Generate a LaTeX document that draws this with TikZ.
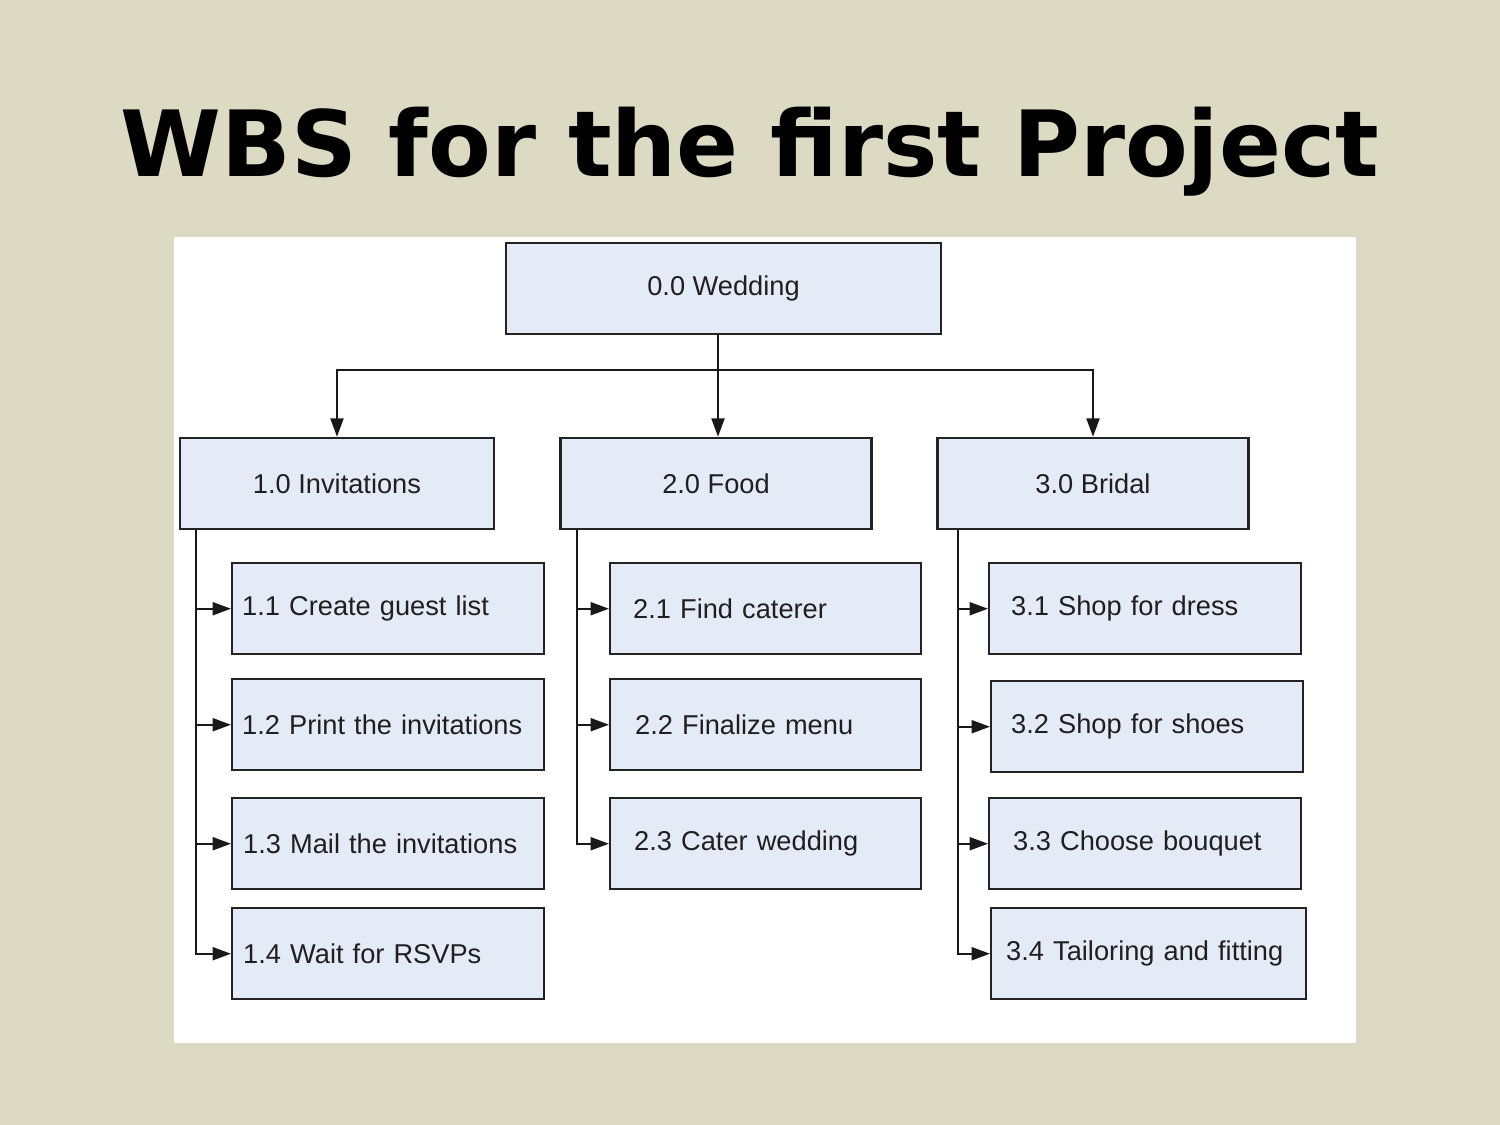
\documentclass[tikz,border=0pt]{standalone}
\usepackage{fontspec}
\setmainfont{Liberation Sans}
\newfontfamily\titlefont{DejaVu Sans}
\usetikzlibrary{positioning, arrows.meta}
\definecolor{slidebeige}{RGB}{221, 218, 196}
\definecolor{boxblue}{RGB}{229, 235, 246}
\definecolor{edgegray}{RGB}{35, 35, 35}

\begin{document}
\begin{tikzpicture}[x=0.02cm, y=-0.02cm,
    box/.style={rectangle, draw=edgegray, line width=1.4pt, fill=boxblue, minimum height=1.82cm, text=black!88, font=\fontsize{15.5}{19}\selectfont},
    headbox/.style={box, minimum width=#1},
    task/.style 2 args={box, anchor=north west, inner xsep=#1, text width=#2, align=left},
    arrow/.style={-{Triangle[length=0.37cm, width=0.26cm]}, line width=1.3pt, draw=black!90}
]
    % Slide and panel
    \fill[slidebeige] (0,0) rectangle (1500,1125);
    \fill[white] (174,237) rectangle (1356,1043);
    \node[font=\titlefont\bfseries\fontsize{52}{60}\selectfont, anchor=base] (title) at (750,177) {WBS for the first Project};

    % Level 0
    \node[headbox=8.7cm] (root) at (723.5,288.5) {0.0 Wedding};

    % Level 1
    \node[headbox=6.28cm] (n10) at (337,483.5) {1.0 Invitations};
    \node[headbox=6.22cm] (n20) at (716,483.5) {2.0 Food};
    \node[headbox=6.22cm] (n30) at (1093,483.5) {3.0 Bridal};

    % Level 2 - Invitations
    \node[task={0.2cm}{5.84cm}] (n11) at (231,562) {1.1 Create guest list};
    \node[task={0.2cm}{5.84cm}] (n12) at (231,678) {1.2 Print the invitations};
    \node[task={0.22cm}{5.8cm}] (n13) at (231,797) {1.3 Mail the invitations};
    \node[task={0.22cm}{5.8cm}] (n14) at (231,907) {1.4 Wait for RSVPs};

    % Level 2 - Food
    \node[task={0.46cm}{5.3cm}] (n21) at (609,562) {2.1 Find caterer};
    \node[task={0.5cm}{5.22cm}] (n22) at (609,678) {2.2 Finalize menu};
    \node[task={0.48cm}{5.26cm}] (n23) at (609,797) {2.3 Cater wedding};

    % Level 2 - Bridal
    \node[task={0.44cm}{5.36cm}] (n31) at (988,562) {3.1 Shop for dress};
    \node[task={0.4cm}{5.44cm}] (n32) at (990,680) {3.2 Shop for shoes};
    \node[task={0.48cm}{5.28cm}] (n33) at (988,797) {3.3 Choose bouquet};
    \node[task={0.3cm}{5.7cm}] (n34) at (990,907) {3.4 Tailoring and fitting};

    % Connections - Level 0 to Level 1
    \coordinate (bar) at (718,370);
    \draw[arrow] (root.south -| bar) -- (bar |- n20.north);
    \draw[arrow] (bar) -| (n10.north);
    \draw[arrow] (bar) -| (n30.north);

    % Connections - Level 1 to Level 2
    \coordinate (s1) at ([xshift=0.34cm]n10.south west);
    \coordinate (s2) at ([xshift=0.36cm]n20.south west);
    \coordinate (s3) at ([xshift=0.44cm]n30.south west);
    \foreach \t in {11,12,13,14} {
        \draw[arrow] (s1) |- (n\t.west);
    }
    \foreach \t in {21,22,23} {
        \draw[arrow] (s2) |- (n\t.west);
    }
    \foreach \t in {31,32,33,34} {
        \draw[arrow] (s3) |- (n\t.west);
    }
\end{tikzpicture}
\end{document}
